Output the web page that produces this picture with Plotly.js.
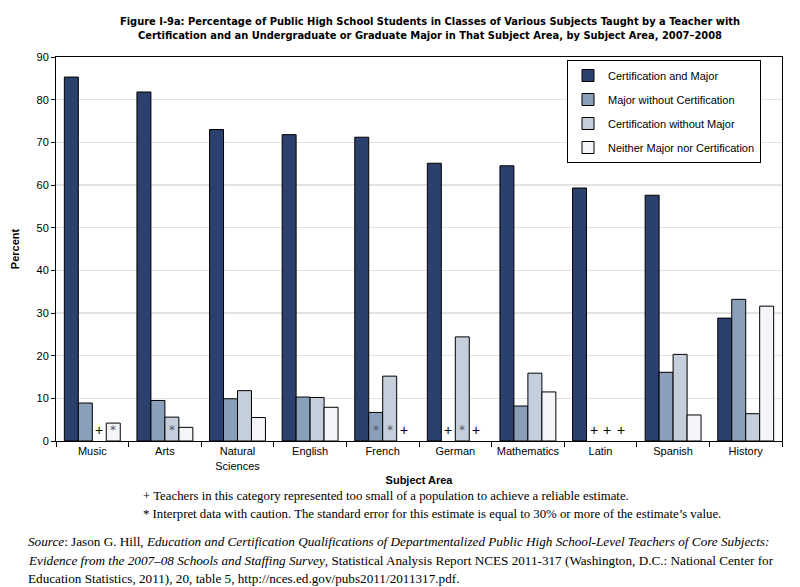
<!DOCTYPE html>
<html>
<head>
<meta charset="utf-8">
<script src="https://cdn.plot.ly/plotly-3.0.1.min.js"></script>
<style>html,body{margin:0;padding:0;background:#fff;}#chart{width:800px;height:587px;}</style>
</head>
<body>
<div id="chart"></div>
<script>
// ---- data ----
const categories = ['Music', 'Arts', 'Natural<br>Sciences', 'English', 'French', 'German', 'Mathematics', 'Latin', 'Spanish', 'History'];
const seriesNames = ['Certification and Major', 'Major without Certification', 'Certification without Major', 'Neither Major nor Certification'];
const certAndMajor = [85.3, 81.8, 73.0, 71.8, 71.2, 65.1, 64.5, 59.3, 57.6, 28.8];
const majorNoCert = [8.9, 9.5, 9.9, 10.3, 6.7, null, 8.2, null, 16.1, 33.2];
const certNoMajor = [null, 5.6, 11.8, 10.2, 15.2, 24.4, 15.9, null, 20.3, 6.4];
const neitherMajorCert = [4.2, 3.2, 5.5, 7.9, null, null, 11.5, null, 6.1, 31.6];
// flags: '+' = too small a population, '*' = interpret with caution
const flagsCertAndMajor = ['', '', '', '', '', '', '', '', '', ''];
const flagsMajorNoCert = ['', '', '', '', '*', '+', '', '+', '', ''];
const flagsCertNoMajor = ['+', '*', '', '', '*', '*', '', '+', '', ''];
const flagsNeither = ['*', '', '', '', '+', '+', '', '+', '', ''];
const yTickVals = [0, 10, 20, 30, 40, 50, 60, 70, 80, 90];

const colors = ['#2c406e', '#8a9fba', '#c4cfdb', '#f3f5f9'];
const allValues = [certAndMajor, majorNoCert, certNoMajor, neitherMajorCert];
const allFlags = [flagsCertAndMajor, flagsMajorNoCert, flagsCertNoMajor, flagsNeither];
const bargap = 0.23;

const traces = allValues.map((vals, j) => ({
  type: 'bar',
  name: seriesNames[j],
  x: categories,
  y: vals,
  legendgroup: 'g' + j,
  marker: {color: colors[j], line: {color: '#000', width: 1}},
  hoverinfo: 'skip'
}));

const annotations = [];
const w = (1 - bargap) / allValues.length;
allFlags.forEach((flags, j) => {
  flags.forEach((f, i) => {
    if (!f) return;
    annotations.push({
      xref: 'x', yref: 'y',
      x: i + (j - (allValues.length - 1) / 2) * w,
      y: 0, yanchor: 'bottom', yshift: f === '*' ? 2 : 1,
      text: f, showarrow: false,
      font: f === '*' ? {family: 'DejaVu Sans, sans-serif', size: 12, color: '#555a66'}
                      : {family: 'Liberation Sans, Arial, sans-serif', size: 14, color: '#000'}
    });
  });
});

const L = 56, R = 782, T = 57, B = 441;
const px = v => (v - L) / (R - L);
const py = v => (B - v) / (B - T);
const serif = 'Liberation Serif, Times New Roman, serif';

annotations.push(
  {xref: 'paper', yref: 'paper', x: px(141), y: py(496), xanchor: 'left', yanchor: 'middle', showarrow: false, align: 'left',
   text: '+ Teachers in this category represented too small of a population to achieve a reliable estimate.',
   font: {family: serif, size: 12.8, color: '#000'}},
  {xref: 'paper', yref: 'paper', x: px(141), y: py(514), xanchor: 'left', yanchor: 'middle', showarrow: false, align: 'left',
   text: '* Interpret data with caution. The standard error for this estimate is equal to 30% or more of the estimate’s value.',
   font: {family: serif, size: 12.8, color: '#000'}},
  {xref: 'paper', yref: 'paper', x: px(26), y: py(541), xanchor: 'left', yanchor: 'middle', showarrow: false, align: 'left',
   text: '<i>Source</i>: Jason G. Hill, <i>Education and Certification Qualifications of Departmentalized Public High School-Level Teachers of Core Subjects:</i>',
   font: {family: serif, size: 13.2, color: '#000'}},
  {xref: 'paper', yref: 'paper', x: px(26), y: py(560), xanchor: 'left', yanchor: 'middle', showarrow: false, align: 'left',
   text: '<i>Evidence from the 2007–08 Schools and Staffing Survey</i>, Statistical Analysis Report NCES 2011-317 (Washington, D.C.: National Center for',
   font: {family: serif, size: 13.2, color: '#000'}},
  {xref: 'paper', yref: 'paper', x: px(26), y: py(578), xanchor: 'left', yanchor: 'middle', showarrow: false, align: 'left',
   text: 'Education Statistics, 2011), 20, table 5, http://nces.ed.gov/pubs2011/2011317.pdf.',
   font: {family: serif, size: 13.2, color: '#000'}}
);

const layout = {
  width: 800, height: 587,
  margin: {l: L, r: 800 - R, t: T, b: 587 - B, pad: 0},
  paper_bgcolor: '#fff', plot_bgcolor: '#fff',
  barmode: 'group', bargap: bargap, bargroupgap: 0,
  font: {family: 'Liberation Sans, Arial, sans-serif', size: 11, color: '#000'},
  title: {
    text: '<b>Figure I-9a: Percentage of Public High School Students in Classes of Various Subjects Taught by a Teacher with<br>Certification and an Undergraduate or Graduate Major in That Subject Area, by Subject Area, 2007–2008</b>',
    font: {family: 'Liberation Sans Narrow, Arial Narrow, DejaVu Sans Condensed, sans-serif', size: 11, color: '#000'},
    x: 0.5375, xanchor: 'center', xref: 'container', y: 1 - 25 / 587, yanchor: 'top', yref: 'container'
  },
  xaxis: {
    type: 'category',
    showline: true, linecolor: '#000', linewidth: 1, mirror: true,
    ticks: 'outside', tickson: 'boundaries', ticklen: 5, tickcolor: '#000',
    showgrid: false, zeroline: false,
    tickfont: {size: 11},
    title: {text: '<b>Subject Area</b>', font: {size: 11}, standoff: 5}
  },
  yaxis: {
    range: [0, 90], tickvals: yTickVals,
    showline: true, linecolor: '#000', linewidth: 1, mirror: true,
    ticks: 'outside', ticklen: 4, tickcolor: '#000',
    showgrid: true, gridcolor: '#e2e2e2', gridwidth: 1.5, zeroline: false,
    tickfont: {size: 11},
    title: {text: '<b>Percent</b>', font: {size: 11}, standoff: 14}
  },
  legend: {
    x: px(567), y: py(60), xanchor: 'left', yanchor: 'top',
    bgcolor: '#fff', bordercolor: '#000', borderwidth: 1,
    font: {size: 11}, traceorder: 'grouped', tracegroupgap: 5
  },
  annotations: annotations,
  showlegend: true
};

Plotly.newPlot('chart', traces, layout, {displayModeBar: false, staticPlot: true});
</script>
</body>
</html>
